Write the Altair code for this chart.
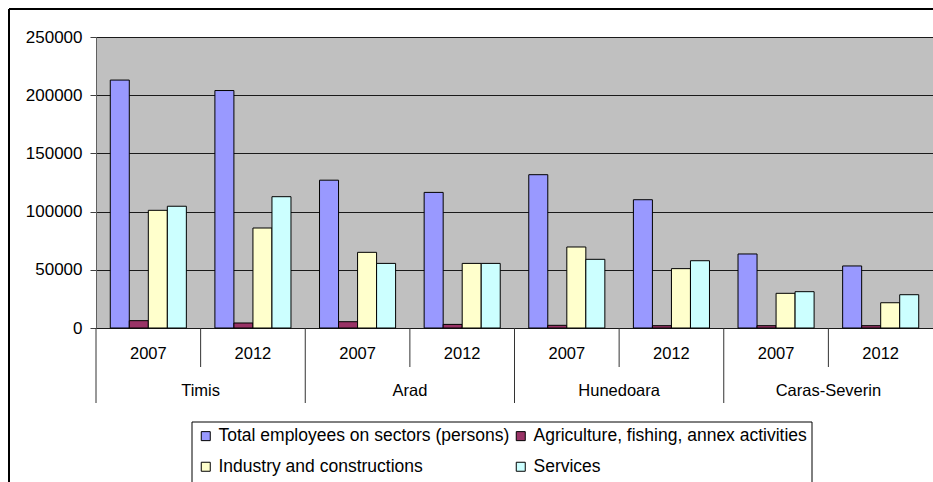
import altair as alt
import pandas as pd

regions = ["Timis", "Arad", "Hunedoara", "Caras-Severin"]
years = ["2007", "2012"]
series = [
    "Total employees on sectors (persons)",
    "Agriculture, fishing, annex activities",
    "Industry and constructions",
    "Services",
]
colors = ["#9999FF", "#993366", "#FFFFCC", "#CCFFFF"]

# order: Timis 2007, Timis 2012, Arad 2007, Arad 2012, Hunedoara 2007, Hunedoara 2012, Caras 2007, Caras 2012
total = [213000, 204000, 127000, 116500, 131700, 110200, 63600, 53300]
agri = [6300, 4300, 5400, 3100, 2300, 2000, 2000, 2000]
industry = [101100, 85900, 65000, 55500, 69600, 51000, 29800, 21700]
services = [104600, 112800, 55500, 55500, 59000, 57800, 31200, 28600]
y_ticks = [0, 50000, 100000, 150000, 200000, 250000]

keys = [f"{r} {y}" for r in regions for y in years]
rows = []
for i, k in enumerate(keys):
    for s, vals in zip(series, [total, agri, industry, services]):
        rows.append({"key": k, "series": s, "value": vals[i]})
df = pd.DataFrame(rows)

lab_df = pd.DataFrame({
    "key": keys,
    "year": [y for r in regions for y in years],
    "region": [r for r in regions for y in years],
})
long_df = lab_df[lab_df["year"] == "2007"]
short_df = lab_df[lab_df["year"] == "2012"]

W, H = 837, 291
BOTTOM = 154
FONT = "Liberation Sans"
LX, LY, LX2 = 96, 385, 716

xsort = alt.X("key:N", sort=keys, scale=alt.Scale(paddingInner=0, paddingOuter=0), axis=None)

bars = alt.Chart(df).mark_bar(stroke="black", strokeWidth=1).encode(
    x=xsort,
    xOffset=alt.XOffset("series:N", sort=series,
                        scale=alt.Scale(paddingInner=0, paddingOuter=0.75)),
    y=alt.Y("value:Q", scale=alt.Scale(domain=[0, 250000], nice=False),
            axis=alt.Axis(values=y_ticks, title=None, format="d", grid=True,
                          gridColor="#1a1a1a", gridWidth=1,
                          domainColor="#606060", tickColor="#404040",
                          tickSize=6, labelPadding=8, labelFontSize=17,
                          labelFont=FONT, labelColor="black")),
    color=alt.Color("series:N", sort=series,
                    scale=alt.Scale(domain=series, range=colors),
                    legend=alt.Legend(title=None, orient="none", legendX=LX, legendY=LY,
                                      direction="horizontal",
                                      columns=2, strokeColor="transparent",
                                      padding=5, symbolType="square", symbolSize=81,
                                      symbolStrokeColor="black", symbolStrokeWidth=1,
                                      labelFontSize=17.5, labelFont=FONT, labelColor="black",
                                      rowPadding=12, columnPadding=2, labelOffset=4,
                                      labelLimit=500)),
)

long_rules = alt.Chart(long_df).mark_rule(color="#333333", strokeWidth=1).encode(
    x=alt.X("key:N", sort=keys, bandPosition=0),
    y=alt.value(H), y2=alt.value(H + 75),
)
short_rules = alt.Chart(short_df).mark_rule(color="#333333", strokeWidth=1).encode(
    x=alt.X("key:N", sort=keys, bandPosition=0),
    y=alt.value(H), y2=alt.value(H + 39),
)
year_text = alt.Chart(lab_df).mark_text(font=FONT, fontSize=16.5, baseline="middle",
                                         color="black").encode(
    x=alt.X("key:N", sort=keys),
    y=alt.value(H + 26),
    text="year:N",
)
region_text = alt.Chart(short_df).mark_text(font=FONT, fontSize=16.5, baseline="middle",
                                             color="black").encode(
    x=alt.X("key:N", sort=keys, bandPosition=0),
    y=alt.value(H + 63),
    text="region:N",
)

one = pd.DataFrame({"a": [0]})
# outer chart frame (top and left edges only are inside the picture)
frame_top = alt.Chart(one).mark_rule(color="black", strokeWidth=2).encode(
    x=alt.value(-87), x2=alt.value(W), y=alt.value(-28))
frame_left = alt.Chart(one).mark_rule(color="black", strokeWidth=2).encode(
    x=alt.value(-87), y=alt.value(-28), y2=alt.value(H + BOTTOM))
# legend frame (bottom edge lies below the picture)
leg_top = alt.Chart(one).mark_rule(color="black", strokeWidth=1).encode(
    x=alt.value(LX), x2=alt.value(LX2), y=alt.value(LY))
leg_left = alt.Chart(one).mark_rule(color="black", strokeWidth=1).encode(
    x=alt.value(LX), y=alt.value(LY), y2=alt.value(H + BOTTOM))
leg_right = alt.Chart(one).mark_rule(color="black", strokeWidth=1).encode(
    x=alt.value(LX2), y=alt.value(LY), y2=alt.value(H + BOTTOM))

chart = alt.layer(bars, long_rules, short_rules, year_text, region_text,
                  frame_top, frame_left, leg_top, leg_left, leg_right).properties(
    width=W, height=H,
    autosize=alt.AutoSizeParams(type="none"),
    padding={"left": 96, "top": 37, "right": 0, "bottom": BOTTOM},
    background="white",
).configure_view(fill="#C0C0C0", stroke="#808080", strokeWidth=1)

chart.save("out.html", embed_options={"renderer": "svg", "actions": False})
